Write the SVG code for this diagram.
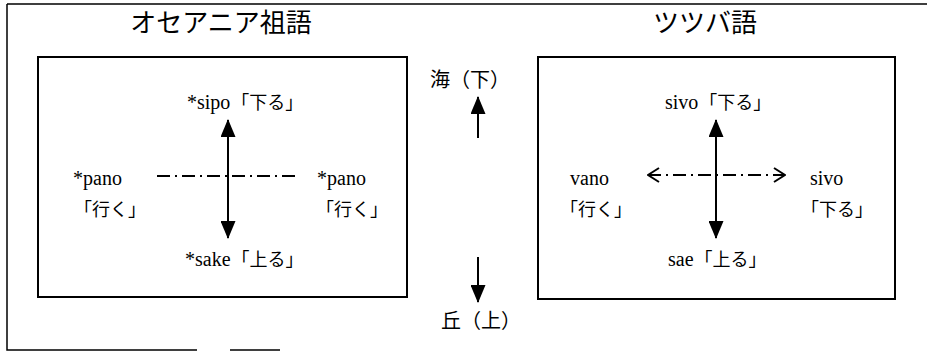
<svg xmlns="http://www.w3.org/2000/svg" width="927" height="352" viewBox="0 0 927 352">
<defs>
<style>
text{font-family:"Liberation Serif","Noto Sans CJK JP",serif;fill:#000}
.t{font-size:26px}
.m{font-size:20px}
.l{font-size:20px;font-family:"Liberation Serif",serif}
.j{font-size:18px;font-family:"Noto Sans CJK JP","Liberation Serif",sans-serif}
.box{fill:none;stroke:#000;stroke-width:2}
.frame{fill:none;stroke:#000;stroke-width:1.5}
.arr{stroke:#000;stroke-width:2;fill:none}
.dd{stroke:#000;stroke-width:1.8;stroke-dasharray:13 5 2 5;fill:none}
</style>
<marker id="fa" viewBox="0 0 18 15" refX="17" refY="7.5" markerWidth="18" markerHeight="15" markerUnits="userSpaceOnUse" orient="auto-start-reverse">
<path d="M0,0 L18,7.5 L0,15 Z" fill="#000"/>
</marker>
<marker id="oa" viewBox="0 0 13 16" refX="12" refY="8" markerWidth="13" markerHeight="16" markerUnits="userSpaceOnUse" orient="auto-start-reverse">
<path d="M1,1 L12,8 L1,15" fill="none" stroke="#000" stroke-width="2"/>
</marker>
</defs>
<rect width="927" height="352" fill="#fff"/>
<g id="frame">
<path class="frame" d="M7,4 H927 M7,4 V350 H197 M230,350 H280"/>
</g>
<g id="title-left"><text class="t" x="221" y="32" text-anchor="middle">オセアニア祖語</text></g>
<g id="title-right"><text class="t" x="705" y="32" text-anchor="middle">ツツバ語</text></g>
<g id="box-left"><rect class="box" x="38" y="57" width="369" height="240"/></g>
<g id="box-right"><rect class="box" x="538" y="57" width="357" height="242"/></g>
<g id="sea"><text class="m" x="430" y="87">海（下）</text></g>
<g id="hill"><text class="m" x="441" y="328">丘（上）</text></g>
<g id="l-top"><text x="187" y="109"><tspan class="l">*sipo</tspan><tspan class="j" dx="1">「下る」</tspan></text></g>
<g id="l-left"><text class="l" x="73" y="185">*pano</text><text class="j" x="74" y="216">「行く」</text></g>
<g id="l-right"><text class="l" x="317" y="185">*pano</text><text class="j" x="316" y="216">「行く」</text></g>
<g id="l-bottom"><text x="185" y="266"><tspan class="l">*sake</tspan><tspan class="j" dx="1">「上る」</tspan></text></g>
<g id="r-top"><text x="665" y="109"><tspan class="l">sivo</tspan><tspan class="j" dx="1">「下る」</tspan></text></g>
<g id="r-left"><text class="l" x="570" y="185">vano</text><text class="j" x="560" y="216">「行く」</text></g>
<g id="r-right"><text class="l" x="810" y="185">sivo</text><text class="j" x="801" y="216">「下る」</text></g>
<g id="r-bottom"><text x="668" y="266"><tspan class="l">sae</tspan><tspan class="j" dx="1">「上る」</tspan></text></g>
<g id="connectors">
<line class="arr" x1="478" y1="138" x2="478" y2="97" marker-end="url(#fa)"/>
<line class="arr" x1="478" y1="257" x2="478" y2="302" marker-end="url(#fa)"/>
<line class="arr" x1="228" y1="120" x2="228" y2="238" marker-start="url(#fa)" marker-end="url(#fa)"/>
<line class="dd" x1="157" y1="176" x2="297" y2="176"/>
<line class="arr" x1="716" y1="120" x2="716" y2="238" marker-start="url(#fa)" marker-end="url(#fa)"/>
<line class="dd" x1="648" y1="175" x2="785" y2="175" marker-start="url(#oa)" marker-end="url(#oa)"/>
</g>
</svg>
